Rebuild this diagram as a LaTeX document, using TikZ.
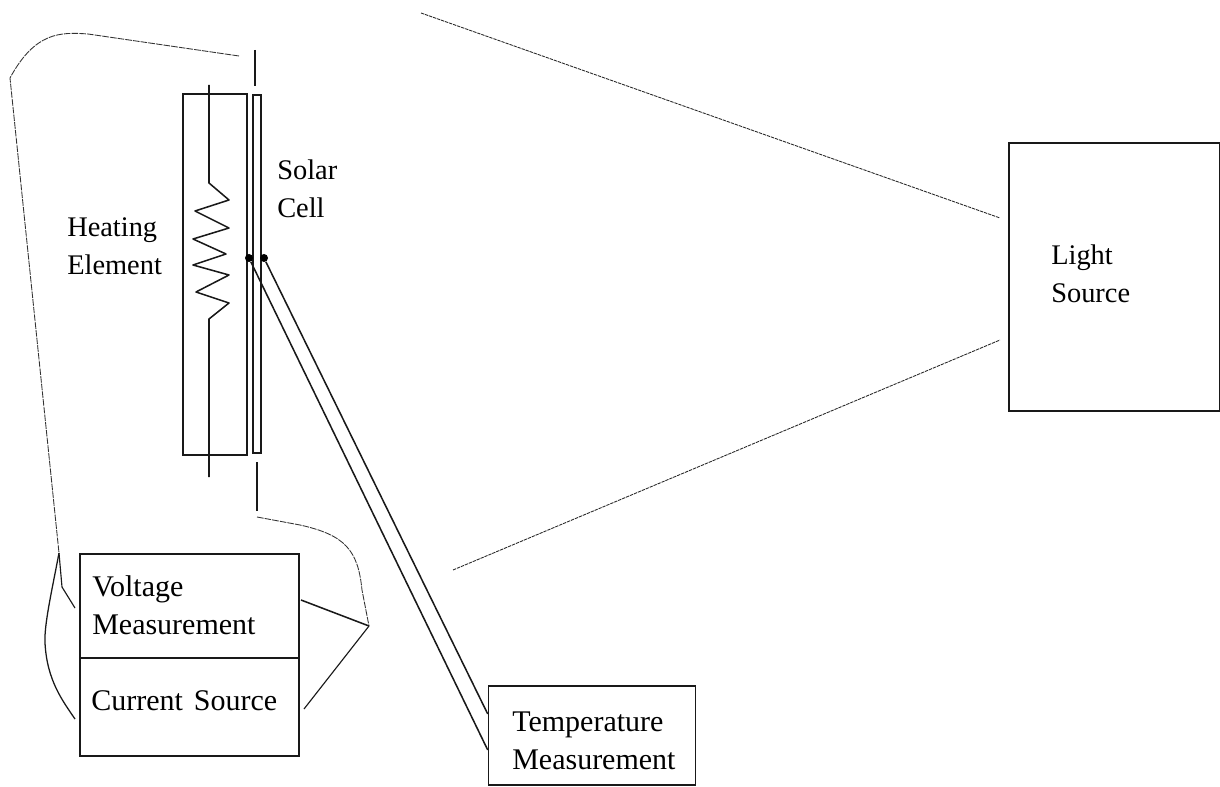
\documentclass[tikz,border=0pt]{standalone}
\usepackage{fontspec}
\setmainfont{Liberation Serif}
\usetikzlibrary{calc}
\tikzset{
  boxs/.style={draw=black!90,line width=1.15pt,minimum width=0pt,inner sep=0pt},
  wire/.style={draw=black!90,line width=1.15pt},
  thin wire/.style={draw=black!80,line width=0.65pt,dash pattern=on 5pt off 0.8pt},
  beam/.style={draw=black!85,line width=0.65pt,dash pattern=on 2.5pt off 0.7pt},
  label/.style={font=\fontsize{21.3}{28.5}\selectfont,align=left,anchor=north west,inner sep=0pt,text=black},
  label wide/.style={label,font=\fontsize{22.5}{28.5}\selectfont},
  junction/.style={circle,fill=black,inner sep=0pt,minimum size=6pt}
}
\begin{document}
\begin{tikzpicture}[x=0.75pt,y=-0.75pt]
\useasboundingbox (0,0) rectangle (1220,787);
% boxes
\node[boxs,minimum width=48pt,minimum height=270.75pt] (heater) at (215,274.5) {};
\node[boxs,minimum width=6pt,minimum height=268.5pt] (cell) at (257,274) {};
\node[boxs,minimum width=164.25pt,minimum height=78pt] (volt) at (189.5,606) {};
\node[boxs,minimum width=164.25pt,minimum height=73.5pt] (curr) at (189.5,707) {};
\node[boxs,minimum width=155.25pt,minimum height=74.25pt] (temp) at (592,735.5) {};
\node[boxs,minimum width=158.25pt,minimum height=201pt] (light) at (1114.5,277) {};
% labels
\node[label] (lheat) at (67,217) {Heating\\Element};
\node[label] (lcell) at (277,160) {Solar\\Cell};
\node[label wide] (lvolt) at (92,575) {Voltage\\Measurement};
\node[label wide] (lcurr) at (91,690) {Current\hspace{0.12em} Source};
\node[label wide] (ltemp) at (512,712) {Temperature\\Measurement};
\node[label] (llight) at (1051,245) {Light\\Source};
% coil
\coordinate (coilT) at (209,85);
\coordinate (coilB) at (209,477);
\draw[wire,line join=round] (coilT) -- (209,183) -- (229,200) -- (195,211) -- (229,228) -- (193,239) -- (226,254) -- (193,265) -- (229,275) -- (196,292) -- (229,303) -- (209,319) -- (coilB);
% cell leads
\coordinate (leadT1) at (255,50);
\coordinate (leadT2) at (255,86);
\coordinate (leadB1) at (257,462);
\coordinate (leadB2) at (257,511);
\coordinate (leadB3) at (257,517);
\draw[wire] (leadT1) -- (leadT2);
\draw[wire] (leadB1) -- (leadB2);
% thermocouple
\node[junction] (jL) at (249,258) {};
\node[junction] (jR) at (264,258) {};
\coordinate (tU) at (temp.west |- 0,714);
\coordinate (tL) at (temp.west |- 0,750);
\draw[wire] (jR) -- (tU);
\draw[wire] (jL) -- (tL);
% long lead, left
\coordinate (p1) at (239,56);
\coordinate (a) at (59,553);
\coordinate (vl) at (75,608);
\coordinate (cl) at (75,719);
\coordinate (vr) at (301,600);
\coordinate (k) at (369,626);
\coordinate (cr) at (304,709);
\draw[thin wire] (p1) -- (88,34) .. controls (60,32) and (35,32) .. (10,78)
  -- (a);
\draw[wire,line width=0.85pt] (a) -- (62,587) -- (vl);
\draw[wire,line width=0.95pt] (a) .. controls (52,590) and (44,625) .. (45,643) .. controls (47,680) and (62,700) .. (cl);
% lead, right
\draw[thin wire] (leadB3) -- (300,525) .. controls (345,535) and (358,550) .. (362,590) -- (k);
\draw[wire] (vr) -- (k);
\draw[wire,line width=0.85pt] (k) -- (cr);
% light beam
\coordinate (b1) at (421,13);
\coordinate (b2) at (1000,218);
\coordinate (b3) at (453,570);
\coordinate (b4) at (1000,340);
\draw[beam] (b1) -- (b2);
\draw[beam] (b3) -- (b4);
\end{tikzpicture}
\end{document}
